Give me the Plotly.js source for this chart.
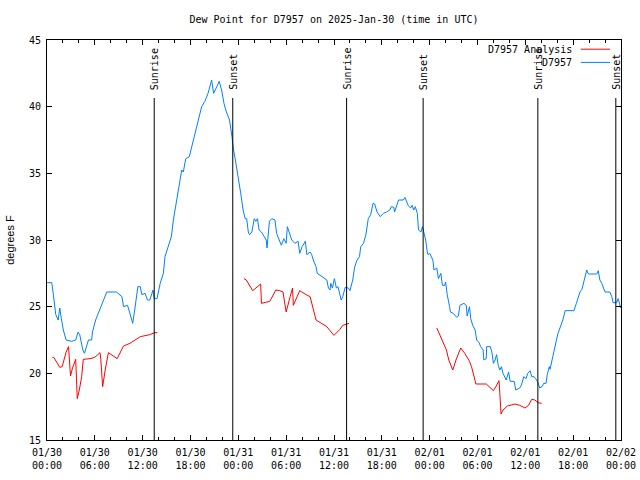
<!DOCTYPE html>
<html>
<head>
<meta charset="utf-8">
<script src="https://cdn.plot.ly/plotly-3.0.1.min.js"></script>
<style>html,body{margin:0;padding:0;background:#fff;}#chart{width:640px;height:480px;}</style>
</head>
<body>
<div id="chart"></div>
<script>
// Hours since 2025-01-30 00:00 UTC
const obsHours = [0.0,0.6,0.8,1.0,1.1,1.4,1.6,1.8,2.05,2.4,3.1,3.6,3.9,4.1,4.3,4.5,4.7,4.9,5.2,5.6,5.7,6.1,6.6,7.0,7.5,8.7,9.4,9.6,10.1,10.4,10.75,11.0,11.4,11.7,11.9,12.3,12.6,12.9,13.2,13.3,13.45,13.8,14.2,14.6,14.8,15.2,15.6,15.85,16.2,16.7,16.9,17.1,17.4,17.85,18.35,19.0,19.4,19.8,20.2,20.65,20.9,21.3,21.6,21.9,22.2,22.5,22.9,23.2,23.4,23.7,24.0,24.3,24.6,24.85,25.05,25.25,25.4,25.7,26.0,26.2,26.4,26.6,26.9,27.1,27.5,27.6,27.9,28.2,28.6,28.8,29.1,29.4,29.7,30.0,30.15,30.4,30.7,31.1,31.5,31.7,32.0,32.4,32.6,33.0,33.2,33.4,33.75,33.9,34.45,34.9,35.1,35.3,35.5,35.6,35.8,36.05,36.3,36.5,36.75,36.9,37.1,37.4,37.8,38.0,38.35,38.6,38.9,39.2,39.35,39.7,40.0,40.3,40.6,40.9,41.1,41.4,41.8,42.2,42.6,43.0,43.2,43.5,43.6,44.1,44.7,44.9,45.3,45.6,45.8,46.0,46.2,46.45,46.6,46.9,47.1,47.3,47.5,47.7,47.8,48.0,48.4,48.55,48.9,49.1,49.4,49.6,49.9,50.0,50.2,50.5,50.6,50.95,51.4,51.6,51.8,52.3,52.6,52.7,53.0,53.15,53.4,53.7,53.9,54.2,54.4,54.7,54.8,55.1,55.15,55.6,55.8,56.0,56.2,56.4,56.6,56.8,57.0,57.2,57.6,57.9,58.1,58.6,58.8,59.3,59.5,59.8,60.1,60.3,60.6,60.8,61.1,61.3,61.6,61.8,62.1,62.3,62.6,62.75,63.0,63.1,63.4,63.7,63.9,64.1,64.45,64.7,65.0,66.1,66.4,66.65,66.85,67.1,67.3,67.5,67.7,67.85,68.0,68.95,69.15,69.35,69.6,69.8,70.0,70.6,70.85,71.0,71.45,71.65,71.8,71.95];
const obsDewPoint = [26.8,26.8,25.9,25.1,24.4,24.0,24.9,24.1,23.25,22.5,22.4,22.5,23.1,22.9,22.4,21.75,21.5,21.9,22.5,22.5,23.1,24.0,24.75,25.4,26.1,26.1,25.75,25.0,25.1,24.5,23.75,24.75,26.5,26.5,25.9,26.0,25.5,25.5,26.0,26.25,25.6,25.6,26.75,27.5,28.75,29.5,30.25,31.5,32.75,34.75,35.25,35.1,36.1,36.25,37.5,39.0,40.0,40.4,41.0,42.0,41.0,41.5,41.9,41.25,40.25,39.6,39.0,37.75,36.75,35.75,34.75,33.5,32.25,31.6,31.6,30.6,30.4,30.6,31.6,31.4,31.6,30.75,30.6,30.4,30.0,29.4,31.4,31.6,31.5,30.5,30.0,29.6,30.1,29.75,31.0,30.5,30.0,29.75,29.9,29.0,29.5,29.9,28.9,29.1,28.9,28.5,28.0,27.5,27.25,27.1,27.0,26.4,26.25,26.75,26.4,27.1,26.4,26.5,25.75,25.5,25.75,26.45,26.4,26.2,27.0,28.0,28.5,28.75,29.5,29.75,30.4,31.6,31.9,32.75,32.7,32.1,31.75,32.0,32.1,32.25,32.5,32.45,32.1,33.0,33.0,33.2,32.6,32.4,32.6,32.25,32.5,32.0,30.75,30.6,31.0,30.5,30.0,29.1,28.9,29.0,28.5,27.75,27.9,27.1,27.5,26.6,26.6,26.85,25.9,25.0,24.6,24.5,24.2,24.3,25.1,25.25,25.1,24.3,25.0,24.1,23.6,23.25,22.5,22.3,22.0,21.75,21.0,21.1,22.0,22.0,21.6,20.75,21.0,21.4,20.6,20.25,20.5,20.0,19.5,20.1,19.4,19.4,18.75,18.9,19.1,19.75,19.6,20.0,20.2,19.75,19.75,19.6,19.3,18.9,19.0,19.25,19.25,19.9,20.5,20.3,21.2,22.0,22.5,23.0,23.55,24.0,24.7,24.7,25.25,25.75,26.1,26.3,26.75,27.25,27.75,27.5,27.45,27.45,27.7,27.0,26.75,26.4,26.1,26.1,25.75,25.3,25.3,25.6,25.1,24.9];

const anaHours = [0.67,0.85,1.6,1.9,2.4,2.7,2.95,3.2,3.6,3.8,4.05,4.35,4.55,5.4,6.0,6.65,6.75,6.98,7.3,7.7,8.8,9.6,10.4,11.25,11.7,12.9,13.5,13.85,null,
  24.7,25.0,25.8,26.8,26.9,27.3,27.95,28.7,29.2,29.6,30.0,30.5,30.8,30.9,31.7,32.5,33.0,33.75,34.45,35.1,35.5,36.0,36.75,37.1,37.9,null,
  48.9,49.0,49.4,49.8,50.1,50.4,50.9,51.3,51.9,52.4,53.0,53.25,53.8,55.1,55.65,56.0,56.3,56.7,56.8,56.95,57.2,57.75,58.7,59.3,59.95,60.4,60.8,61.2,61.6,62.05];
const anaDewPoint = [21.2,21.2,20.45,20.5,21.6,22.0,19.8,20.4,21.05,18.1,18.75,19.75,21.05,21.1,21.2,21.55,21.05,19.0,20.25,21.55,21.1,22.05,22.25,22.6,22.75,22.9,23.05,23.05,null,
  27.1,27.0,26.2,26.7,25.25,25.3,25.4,26.25,26.2,26.1,24.6,25.75,26.4,25.1,26.2,25.9,25.75,24.0,23.75,23.5,23.2,22.85,23.3,23.6,23.75,null,
  23.4,23.25,22.75,22.1,21.75,21.0,20.25,21.0,21.9,21.5,20.9,20.5,19.2,19.2,18.9,18.7,19.0,19.45,18.5,16.95,17.25,17.55,17.7,17.6,17.4,17.6,18.05,18.0,17.8,17.75];

const sunriseHours = [13.45, 37.58, 61.57];
const sunsetHours = [23.3, 47.18, 71.35];

const tickHours = [0,6,12,18,24,30,36,42,48,54,60,66,72];
const tickLabels = ["01/30<br>00:00","01/30<br>06:00","01/30<br>12:00","01/30<br>18:00","01/31<br>00:00","01/31<br>06:00","01/31<br>12:00","01/31<br>18:00","02/01<br>00:00","02/01<br>06:00","02/01<br>12:00","02/01<br>18:00","02/02<br>00:00"];

const seriesNames = ["D7957 Analysis", "D7957"];
const seriesColors = ["#ff0000", "#0080ff"];

const mono = "DejaVu Sans Mono, monospace";

const traces = [
  {x: anaHours, y: anaDewPoint, type: 'scatter', mode: 'lines', name: seriesNames[0],
   line: {color: seriesColors[0], width: 1}, connectgaps: false},
  {x: obsHours, y: obsDewPoint, type: 'scatter', mode: 'lines', name: seriesNames[1],
   line: {color: seriesColors[1], width: 1}}
];

const shapes = [];
const annotations = [];
function addEvent(h, label) {
  shapes.push({type: 'line', xref: 'x', yref: 'paper', x0: h, x1: h, y0: 0, y1: 0.855,
               line: {color: '#000', width: 1}});
  annotations.push({xref: 'x', yref: 'paper', x: h, y: 0.87, text: label, showarrow: false,
                    textangle: -90, xanchor: 'center', yanchor: 'bottom',
                    font: {family: mono, size: 10, color: '#000'}});
}
sunriseHours.forEach(h => addEvent(h, 'Sunrise'));
sunsetHours.forEach(h => addEvent(h, 'Sunset'));

// gnuplot-style key: text then line sample
const keyY = [0.977, 0.944];
seriesNames.forEach((n, i) => {
  annotations.push({xref: 'paper', yref: 'paper', x: 0.918, y: keyY[i], text: n, showarrow: false,
                    xanchor: 'right', yanchor: 'middle', font: {family: mono, size: 10, color: '#000'}});
  shapes.push({type: 'line', xref: 'paper', yref: 'paper', x0: 0.93, x1: 0.981, y0: keyY[i], y1: keyY[i],
               line: {color: seriesColors[i], width: 1}});
});

const layout = {
  width: 640, height: 480,
  margin: {l: 47, r: 19, t: 40, b: 40, pad: 0},
  paper_bgcolor: '#fff', plot_bgcolor: '#fff',
  showlegend: false,
  title: {text: 'Dew Point for D7957 on 2025-Jan-30 (time in UTC)', x: 0.5, xref: 'paper',
          y: 0.96, yanchor: 'middle', font: {family: mono, size: 10, color: '#000'}},
  xaxis: {range: [0, 72], tickmode: 'array', tickvals: tickHours, ticktext: tickLabels,
          ticks: 'inside', ticklen: 5, tickcolor: '#000', showline: true, linecolor: '#000', linewidth: 1,
          mirror: 'ticks', showgrid: false, zeroline: false, ticklabelstandoff: 3,
          tickfont: {family: mono, size: 10, color: '#000'},
          minor: {tickmode: 'linear', tick0: 0, dtick: 2, ticks: 'inside', ticklen: 3, tickcolor: '#000', showgrid: false}},
  yaxis: {range: [15, 45], tickmode: 'linear', tick0: 15, dtick: 5,
          ticks: 'inside', ticklen: 5, tickcolor: '#000', showline: true, linecolor: '#000', linewidth: 1,
          mirror: 'ticks', showgrid: false, zeroline: false, ticklabelstandoff: 3,
          tickfont: {family: mono, size: 10, color: '#000'},
          title: {text: 'degrees F', standoff: 12, font: {family: 'Liberation Sans, sans-serif', size: 11, color: '#000'}}},
  shapes: shapes,
  annotations: annotations
};

Plotly.newPlot('chart', traces, layout, {displayModeBar: false, staticPlot: true});
</script>
</body>
</html>
